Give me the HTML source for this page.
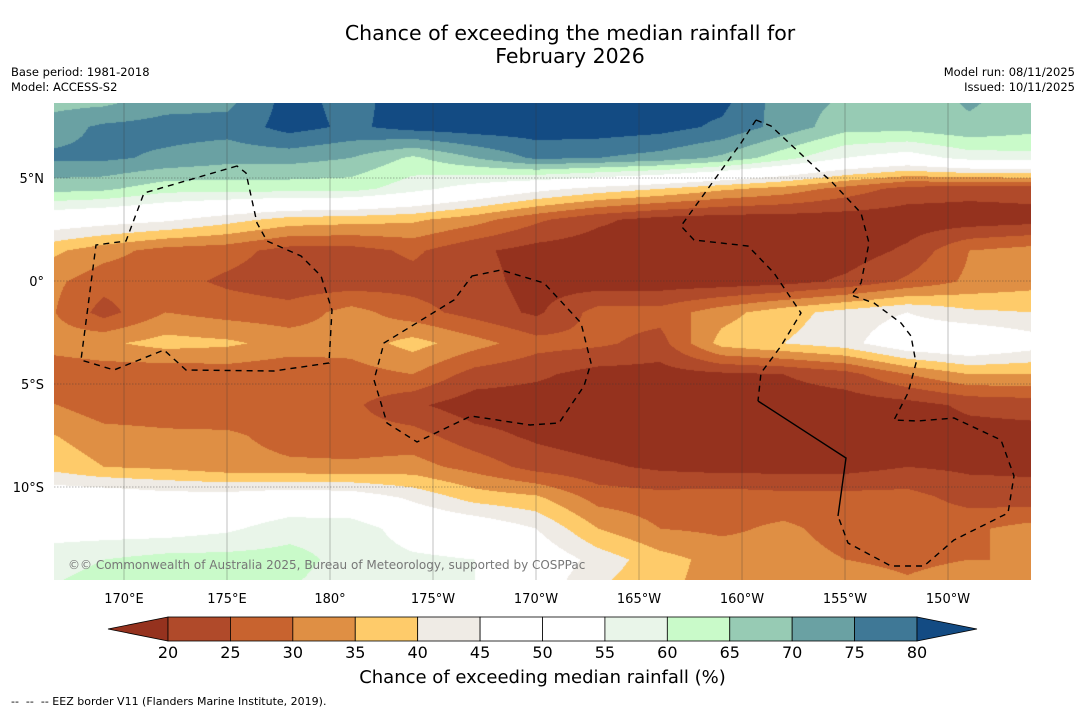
<!DOCTYPE html>
<html><head><meta charset="utf-8"><style>
html,body{margin:0;padding:0;background:#fff;}
body{width:1085px;height:713px;position:relative;overflow:hidden;font-family:"Liberation Sans","DejaVu Sans",sans-serif;}
.t{position:absolute;white-space:nowrap;color:#000;}
</style></head><body>
<div class="t" style="left:0;width:1140px;top:22px;text-align:center;font-size:20.5px;line-height:23px;font-family:'DejaVu Sans',sans-serif;">Chance of exceeding the median rainfall for<br>February 2026</div>
<div class="t" style="left:11px;top:65px;font-size:11.5px;line-height:15px;font-family:'DejaVu Sans',sans-serif;">Base period: 1981-2018<br>Model: ACCESS-S2</div>
<div class="t" style="right:10px;top:65px;font-size:11.5px;line-height:15px;text-align:right;font-family:'DejaVu Sans',sans-serif;">Model run: 08/11/2025<br>Issued: 10/11/2025</div>
<canvas id="map" width="977" height="477" style="position:absolute;left:54px;top:103px;"></canvas>
<svg id="ov" width="1085" height="713" style="position:absolute;left:0;top:0;" font-family="DejaVu Sans, sans-serif"></svg>
<div class="t" style="left:68px;top:558px;font-size:12px;color:#777;font-family:'DejaVu Sans',sans-serif;">©© Commonwealth of Australia 2025, Bureau of Meteorology, supported by COSPPac</div>
<div class="t" style="left:0;width:1085px;text-align:center;top:667px;font-size:18px;font-family:'DejaVu Sans',sans-serif;">Chance of exceeding median rainfall (%)</div>
<div class="t" style="left:11px;top:695px;font-size:11px;font-family:'DejaVu Sans',sans-serif;">--&nbsp; --&nbsp; -- EEZ border V11 (Flanders Marine Institute, 2019).</div>
<script>
// grid longitudes (deg E) and latitudes
const lons=[166,169,172,175,178,181,184,187,190,193,196,199,202,205,208,211,214];
const lats=[9,7.5,6,4.5,3,1.5,0,-1.5,-3,-4.5,-6,-7.5,-9,-10.5,-12,-13.5,-15];
const row9=[67,67,72,73,82,78,83,83,83,82,82,82,72,70,67,71,68];
const row7_5=[72,76,77,77,82,79,82,83,83,83,82,79,73,67,67,69,67];
const row6=[76,76,74,72,72,70,64,70,76,75,73,69,62,55,52,57,58];
const row4_5=[67,66,62,62,62,62,57,52,47,43,40,36,33,28,23,22,22];
const row3=[50,48,46,42,38,37,36,32,26,21,18,17,17,17,17,17,18];
const row1_5=[37,32,28,27,23,23,26,21,18,17,17,17,17,17,21,30,32];
const row0=[32,27,27,24,22,22,23,22,18,17,17,17,18,21,26,31,33];
const rowS1_5=[32,23,30,28,27,32,27,23,19,27,27,33,38,42,45,41,40];
const rowS3=[32,34,37,36,33,32,37,32,27,26,23,37,40,43,50,52,48];
const rowS4_5=[26,27,26,27,26,28,30,23,21,18,18,19,20,23,30,35,35];
const rowS6=[31,27,27,26,26,26,21,17,17,17,17,17,17,17,18,21,22];
const rowS7_5=[36,32,31,31,28,27,27,22,19,17,17,17,17,17,17,18,18];
const rowS9=[39,35,34,32,31,31,32,28,23,21,19,18,18,18,20,19,19];
const rowS10_5=[50,50,48,48,50,49,44,38,36,28,27,28,27,27,27,23,22];
const rowS12=[52,52,52,54,58,58,52,50,45,35,30,29,31,28,28,29,32];
const rowS13_5=[58,60,62,62,62,58,56,55,50,43,37,33,32,30,29,30,30];
const rowS15=[60,62,63,63,60,57,55,55,48,40,36,33,33,33,31,33,36];
const grid=[row9,row7_5,row6,row4_5,row3,row1_5,row0,rowS1_5,rowS3,rowS4_5,rowS6,rowS7_5,rowS9,rowS10_5,rowS12,rowS13_5,rowS15];
const binEdges=[20,25,30,35,40,45,50,55,60,65,70,75,80];
const tickLabels=["20","25","30","35","40","45","50","55","60","65","70","75","80"];
const binColors=["#95321e","#b04a2a","#c8632f","#df8f44","#fecb6a","#efebe5","#ffffff","#ffffff","#e9f5e9","#c9fac9","#97cbb4","#6aa1a3","#3f7896","#134b83"];

const PX=20.6;
const xOf=lon=>124+(lon-170)*PX;
const yOf=lat=>281-lat*PX;
const lonOfX=x=>170+(x-124)/PX;
const latOfY=y=>(281-y)/PX;

function hex(c){return [parseInt(c.substr(1,2),16),parseInt(c.substr(3,2),16),parseInt(c.substr(5,2),16)];}
const rgb=binColors.map(hex);
function colorIdx(v){let i=0;while(i<binEdges.length&&v>=binEdges[i])i++;return i;}
function sample(lon,lat){
  let fx=(lon-lons[0])/(lons[1]-lons[0]);
  let fy=(lats[0]-lat)/(lats[0]-lats[1]);
  fx=Math.max(0,Math.min(lons.length-1.0001,fx));
  fy=Math.max(0,Math.min(lats.length-1.0001,fy));
  const i=Math.floor(fx),j=Math.floor(fy),a=fx-i,b=fy-j;
  const v00=grid[j][i],v10=grid[j][i+1],v01=grid[j+1][i],v11=grid[j+1][i+1];
  return v00*(1-a)*(1-b)+v10*a*(1-b)+v01*(1-a)*b+v11*a*b;
}
const cv=document.getElementById('map');const ctx=cv.getContext('2d');
const img=ctx.createImageData(977,477);
for(let py=0;py<477;py++){const lat=latOfY(py+103);
  for(let px=0;px<977;px++){const lon=lonOfX(px+54);
    const c=rgb[colorIdx(sample(lon,lat))];const k=(py*977+px)*4;
    img.data[k]=c[0];img.data[k+1]=c[1];img.data[k+2]=c[2];img.data[k+3]=255;}}
ctx.putImageData(img,0,0);

const NS='http://www.w3.org/2000/svg';const svg=document.getElementById('ov');
function mk(tag,at,parent){const e=document.createElementNS(NS,tag);for(const k in at)e.setAttribute(k,at[k]);(parent||svg).appendChild(e);return e;}
const lonTicks=[170,175,180,185,190,195,200,205,210];
const lonTickLabels=["170°E","175°E","180°","175°W","170°W","165°W","160°W","155°W","150°W"];
const latTicks=[5,0,-5,-10];
const latTickLabels=["5°N","0°","5°S","10°S"];
lonTicks.forEach((L,i)=>{
  const g=mk('line',{x1:xOf(L),x2:xOf(L),y1:103,y2:580,stroke:'#333','stroke-width':0.5,'stroke-opacity':0.6});
  
  
  const t=mk('text',{x:xOf(L),y:603,'text-anchor':'middle','font-size':13});t.textContent=lonTickLabels[i];
  
  
});
latTicks.forEach((L,i)=>{
  const g=mk('line',{x1:54,x2:1031,y1:yOf(L),y2:yOf(L),stroke:'#333','stroke-width':0.6,'stroke-dasharray':'1.5,1.5','stroke-opacity':0.7});
  
  
  const t=mk('text',{x:44,y:yOf(L)+5,'text-anchor':'end','font-size':13});t.textContent=latTickLabels[i];
  
  
});
const eez=[
 {d:"M237,166 L144,193 L126,241 L96,245 L81,360 L114,370 L164,350 L186,370 L274,371 L329,363 L332,310 L321,276 L301,256 L267,241 L257,223 L246,173 Z",dash:'6,5'},
 {d:"M472,276 L501,270 L544,283 L581,323 L591,363 L584,386 L559,423 L530,425 L471,416 L417,442 L387,423 L374,380 L384,343 L454,300 Z",dash:'6,5'},
 {d:"M756,120 L771,126 L818,170 L831,181 L861,213 L869,243 L861,283 L851,295 L874,303 L901,323 L911,336 L916,363 L908,393 L894,420 L918,421 L954,418 L1001,440 L1014,476 L1008,513 L954,540 L924,566 L891,566 L848,543 L838,516",dash:'6,5'},
 {d:"M756,120 L741,143 L681,226 L694,240 L748,246 L774,273 L801,313 L781,346 L761,373 L758,401",dash:'6,5'},
 {d:"M758,401 L846,458 L838,516",dash:'none'}
];
eez.forEach(e=>{const p=mk('path',{d:e.d,fill:'none',stroke:'#000','stroke-width':1.4,'stroke-dasharray':e.dash});
  
  });
const cbX0=168,cbX1=917,cbY=617,cbH=24;const cbW=(cbX1-cbX0)/(binEdges.length-1);
const cbx=v=>cbX0+(v-binEdges[0])/(binEdges[binEdges.length-1]-binEdges[0])*(cbX1-cbX0);
const lo=mk('polygon',{points:`${cbX0},${cbY} 108,${cbY+cbH/2} ${cbX0},${cbY+cbH}`,fill:binColors[0],stroke:'#000','stroke-width':0.8});


for(let i=0;i<binEdges.length-1;i++){
  const r=mk('rect',{x:cbx(binEdges[i]),y:cbY,width:cbW,height:cbH,fill:binColors[i+1],stroke:'#000','stroke-width':0.8});
  
  
}
const hi=mk('polygon',{points:`${cbX1},${cbY} 977,${cbY+cbH/2} ${cbX1},${cbY+cbH}`,fill:binColors[binColors.length-1],stroke:'#000','stroke-width':0.8});


binEdges.forEach((v,i)=>{const t=mk('text',{x:cbx(v),y:658,'text-anchor':'middle','font-size':16});t.textContent=tickLabels[i];
  
  });
</script>
</body></html>
